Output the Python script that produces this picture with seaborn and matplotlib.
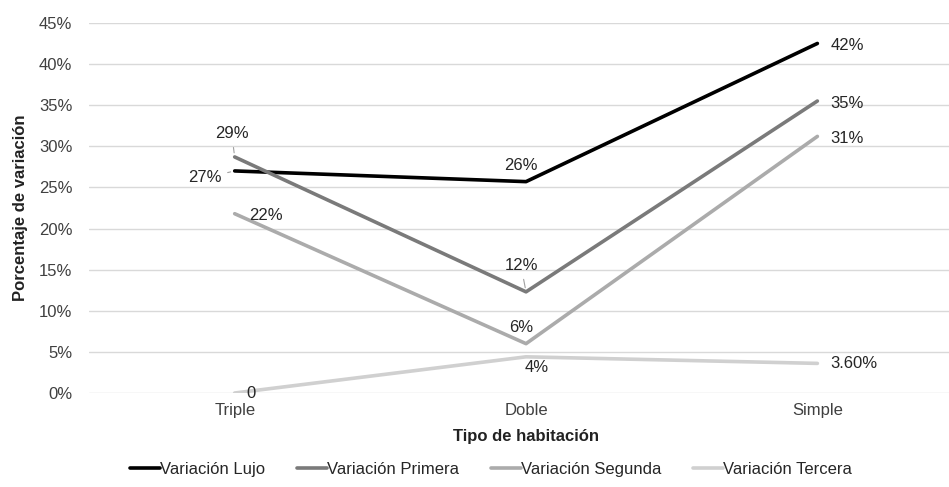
import pandas as pd
import matplotlib.pyplot as plt
import seaborn as sns
from matplotlib.ticker import PercentFormatter

sns.set_theme(style="white")
plt.rcParams['font.family'] = ['Liberation Sans', 'DejaVu Sans']

# data
tipos = ['Triple', 'Doble', 'Simple']
variacion_lujo = [0.27, 0.257, 0.425]
variacion_primera = [0.287, 0.123, 0.355]
variacion_segunda = [0.218, 0.06, 0.312]
variacion_tercera = [0.0, 0.044, 0.036]

etiquetas_lujo = ['27%', '26%', '42%']
etiquetas_primera = ['29%', '12%', '35%']
etiquetas_segunda = ['22%', '6%', '31%']
etiquetas_tercera = ['0', '4%', '3.60%']

series = ['Variación Lujo', 'Variación Primera', 'Variación Segunda', 'Variación Tercera']
colores = ['#000000', '#7a7a7a', '#ababab', '#d0d0d0']

df = pd.DataFrame({
    'tipo': tipos * 4,
    'valor': variacion_lujo + variacion_primera + variacion_segunda + variacion_tercera,
    'serie': [s for s in series for _ in tipos],
})

fig = plt.figure(figsize=(9.49, 4.87), dpi=100)
ax = fig.add_axes([0.0938, 0.193, 0.921, 0.760])

sns.lineplot(data=df, x='tipo', y='valor', hue='serie', palette=colores,
             hue_order=series, linewidth=2.6, ax=ax, sort=False)

ax.set_xlim(-0.5, 2.5)
ax.set_ylim(0, 0.45)
ax.set_yticks([i * 0.05 for i in range(10)])
ax.yaxis.set_major_formatter(PercentFormatter(1.0, decimals=0))
ax.grid(axis='y', color='#d9d9d9', linewidth=1)
ax.grid(axis='x', visible=False)
for s in ax.spines.values():
    s.set_visible(False)
ax.tick_params(axis='both', length=0, labelsize=12, colors='#404040', pad=12)
ax.tick_params(axis='x', pad=7)

ax.set_xlabel('Tipo de habitación', fontsize=12, fontweight='bold', color='#222222', labelpad=8)
ax.set_ylabel('Porcentaje de variación', fontsize=12, fontweight='bold', color='#222222', labelpad=8)

# data labels: (dx, dy) in pixels, horizontal alignment
offsets = {
    0: [(-13, -7, 'right'), (-5, 16, 'center'), (13, -2, 'left')],
    1: [(-3, 23, 'center'), (-5, 26, 'center'), (13, -2, 'left')],
    2: [(14, -2, 'left'), (-5, 16, 'center'), (13, -2, 'left')],
    3: [(12, 0, 'left'), (11, -11, 'center'), (13, 0, 'left')],
}
leaders = {(0, 0), (1, 0), (1, 1)}
valores = [variacion_lujo, variacion_primera, variacion_segunda, variacion_tercera]
etiquetas = [etiquetas_lujo, etiquetas_primera, etiquetas_segunda, etiquetas_tercera]
for i, (vals, labs) in enumerate(zip(valores, etiquetas)):
    for j, (v, lab) in enumerate(zip(vals, labs)):
        dx, dy, ha = offsets[i][j]
        arrow = dict(arrowstyle='-', color='#a0a0a0', lw=0.8, shrinkA=2, shrinkB=3) if (i, j) in leaders else None
        ax.annotate(lab, (j, v), xytext=(dx, dy), textcoords='offset pixels',
                    fontsize=12, color='#262626', va='center', ha=ha,
                    arrowprops=arrow)

leg = ax.legend(loc='upper center', bbox_to_anchor=(0.46, -0.145), ncol=4, frameon=False,
                fontsize=12, handlelength=1.8, handletextpad=0.0, columnspacing=1.9)
for t in leg.get_texts():
    t.set_color('#262626')

fig.savefig('out.png', dpi=100)
